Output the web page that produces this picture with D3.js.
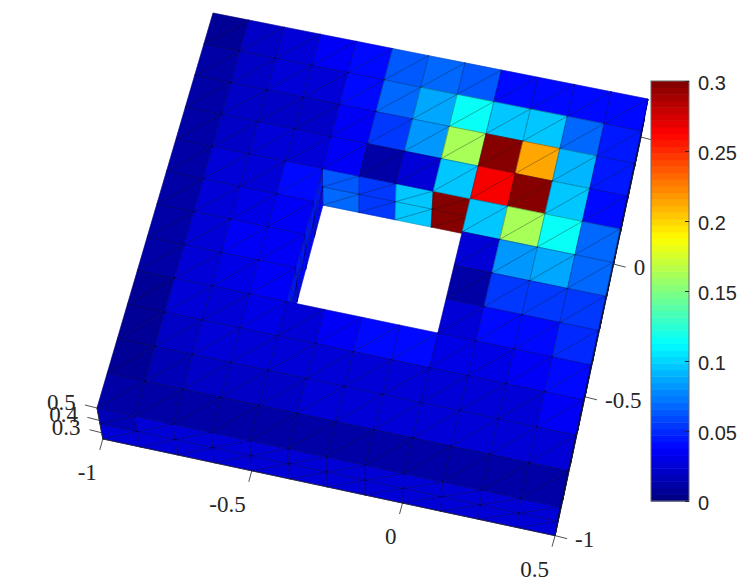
<!DOCTYPE html>
<html>
<head>
<meta charset="utf-8">
<script src="https://cdn.jsdelivr.net/npm/d3@7"></script>
<style>
    body { margin: 0; background: #fff; }
    svg { display: block; }
</style>
</head>
<body>
<svg id="surface" width="747" height="584"></svg>
<script>
// mesh lines
const xNodes = [-1, -0.875, -0.75, -0.625, -0.5, -0.375, -0.25, -0.125, 0, 0.125, 0.25, 0.375, 0.5];
const yNodes = [-1, -0.875, -0.75, -0.625, -0.5, -0.375, -0.25, -0.125, 0, 0.125, 0.25, 0.375, 0.5];
const zNodes = [0.5, 0.375, 0.25];

// tick labels
const xTicks = [-1, -0.5, 0, 0.5];
const yTicks = [-1, -0.5, 0, 0.5];
const zTicks = [0.5, 0.4, 0.3];
const colorTicks = [0, 0.05, 0.1, 0.15, 0.2, 0.25, 0.3];

// top face values, first row is the back one (y = 0.375), null is the hole
const topValues = [
    [.009, .020, .024, .035, .042, .061, .066, .061, .042, .040, .038, .0375],
    [.010, .021, .024, .028, .0375, .066, .085, .1125, .098, .097, .066, .045],
    [.010, .021, .021, .021, .033, .052, .080, .161, .300, .2125, .092, .045],
    [.010, .021, .024, .028, .033, .012, .028, .094, .2625, .300, .094, .040],
    [.010, .024, .028, .0375, null, null, null, null, .094, .161, .1125, .066],
    [.010, .026, .030, .033, null, null, null, null, .026, .080, .085, .066],
    [.011, .028, .033, .033, null, null, null, null, .012, .052, .056, .056],
    [.010, .024, .030, .033, null, null, null, null, .028, .042, .042, .050],
    [.009, .024, .028, .030, .028, .033, .0375, .0375, .030, .030, .035, .0375],
    [.008, .023, .026, .026, .024, .025, .028, .028, .025, .024, .028, .033],
    [.008, .018, .020, .022, .022, .026, .028, .026, .024, .024, .024, .028],
    [.011, .010, .011, .011, .011, .011, .010, .010, .010, .010, .010, .010]
];

// back wall of the hole, u = 4..7, two layers
const holeWallUpper = [.061, .052, .096, .300];
const holeWallLower = [.066, .052, .094, .300];
// left wall of the hole, v = 4..7, two layers
const holeLeftUpper = [.045, .045, .045, .045];
const holeLeftLower = [.040, .040, .040, .040];

// front face, two layers
const frontUpper = [.018, .026, .025, .026, .026, .026, .026, .026, .026, .024, .026, .024];
const frontLower = [.024, .026, .026, .026, .026, .026, .026, .026, .026, .026, .026, .026];
const rightWall = [.010, .010, .010, .010, .010, .010, .010, .010, .010, .010, .010, .010];

const svg = d3.select("svg#surface");

const u = d3.scaleLinear().domain([-1, 0.5]).range([0, 1]);
const v = d3.scaleLinear().domain([-1, 0.5]).range([0, 1]);
const zDrop = d3.scaleLinear().domain([0.5, 0.25]).range([0, 0.0232]);

// perspective of the top plane (z = 0.5), from its four corners on screen
const corner00 = [97, 408], corner10 = [560, 507], corner11 = [648, 99], corner01 = [213, 13];
const nadir = [347, 1742];

const homography = (() => {
    const [x0, y0] = corner00, [x1, y1] = corner10, [x2, y2] = corner11, [x3, y3] = corner01;
    const dx1 = x1 - x2, dx2 = x3 - x2, sx = x0 - x1 + x2 - x3;
    const dy1 = y1 - y2, dy2 = y3 - y2, sy = y0 - y1 + y2 - y3;
    const det = dx1 * dy2 - dx2 * dy1;
    const g = (sx * dy2 - dx2 * sy) / det;
    const h = (dx1 * sy - sx * dy1) / det;
    return (s, t) => {
        const w = g * s + h * t + 1;
        return [
            (x1 - x0 + g * x1) * s + (x3 - x0 + h * x3) * t + x0,
            (y1 - y0 + g * y1) * s + (y3 - y0 + h * y3) * t + y0
        ].map(d => d / w);
    };
})();

function project(x, y, z) {
    const p = homography(u(x), v(y));
    const f = zDrop(z);
    return [p[0] + f * (nadir[0] - p[0]), p[1] + f * (nadir[1] - p[1])];
}

// jet, 64 steps
function jet(t) {
    const ch = c => Math.round(255 * Math.max(0, Math.min(1, 1.5 - Math.abs(4 * t - c))));
    return d3.rgb(ch(3), ch(2), ch(1)).formatHex();
}
const jetColors = d3.range(64).map(i => jet((i + 0.5) / 64));
const color = d3.scaleQuantize().domain([0, 0.3]).range(jetColors);

const sideFaces = [];
const topFaces = [];
// each quad is split in two triangles along a -> c
function addQuad(list, a, b, c, d, value) {
    list.push({points: [a, b, c], value: value});
    list.push({points: [a, c, d], value: value});
}

// right wall first, it only shows as a sliver
rightWall.forEach((val, j) => {
    zNodes.slice(0, 2).forEach((z, k) => {
        addQuad(sideFaces, project(0.5, yNodes[j], zNodes[k + 1]), project(0.5, yNodes[j + 1], zNodes[k + 1]),
            project(0.5, yNodes[j + 1], z), project(0.5, yNodes[j], z), val);
    });
});

// walls of the hole
[holeWallLower, holeWallUpper].forEach((row, k) => {
    row.forEach((val, i) => {
        const x0 = xNodes[i + 4], x1 = xNodes[i + 5];
        addQuad(sideFaces, project(x0, 0, zNodes[2 - k]), project(x1, 0, zNodes[2 - k]),
            project(x1, 0, zNodes[1 - k]), project(x0, 0, zNodes[1 - k]), val);
    });
});
[holeLeftLower, holeLeftUpper].forEach((row, k) => {
    row.forEach((val, j) => {
        const y0 = yNodes[j + 4], y1 = yNodes[j + 5];
        addQuad(sideFaces, project(-0.5, y0, zNodes[2 - k]), project(-0.5, y1, zNodes[2 - k]),
            project(-0.5, y1, zNodes[1 - k]), project(-0.5, y0, zNodes[1 - k]), val);
    });
});

// front face
[frontLower, frontUpper].forEach((row, k) => {
    row.forEach((val, i) => {
        addQuad(sideFaces, project(xNodes[i], -1, zNodes[2 - k]), project(xNodes[i + 1], -1, zNodes[2 - k]),
            project(xNodes[i + 1], -1, zNodes[1 - k]), project(xNodes[i], -1, zNodes[1 - k]), val);
    });
});

// top face
topValues.forEach((row, r) => {
    const j = 11 - r;
    row.forEach((val, i) => {
        if (val === null) return;
        addQuad(topFaces, project(xNodes[i], yNodes[j], 0.5), project(xNodes[i + 1], yNodes[j], 0.5),
            project(xNodes[i + 1], yNodes[j + 1], 0.5), project(xNodes[i], yNodes[j + 1], 0.5), val);
    });
});

const line = d3.line();

// sides first, then the top covers what it hides
[sideFaces, topFaces].forEach(list => {
    const layer = svg.append("g");

    layer.selectAll("path.fill")
        .data(list)
        .enter().append("path")
        .attr("class", "fill")
        .attr("d", d => line(d.points) + "Z")
        .attr("fill", d => color(d.value))
        .attr("stroke", d => color(d.value))
        .attr("stroke-width", 0.6);

    layer.selectAll("path.edge")
        .data(list)
        .enter().append("path")
        .attr("class", "edge")
        .attr("d", d => line(d.points) + "Z")
        .attr("fill", "none")
        .attr("stroke", "#000")
        .attr("stroke-opacity", 0.28)
        .attr("stroke-width", 0.6);
});

// axes of the box
const axisColor = "#262626";
const axes = svg.append("g")
    .attr("stroke", axisColor)
    .attr("stroke-width", 0.8);

axes.append("path")
    .attr("fill", "none")
    .attr("d", line([project(-1, -1, 0.5), project(-1, -1, 0.25), project(0.5, -1, 0.25), project(0.5, 0.5, 0.25)]));

const addTick = (p, dx, dy) => axes.append("line")
    .attr("x1", p[0]).attr("y1", p[1])
    .attr("x2", p[0] + dx).attr("y2", p[1] + dy);

const labels = svg.append("g")
    .attr("fill", axisColor)
    .style("font-family", "'Liberation Serif', serif")
    .style("font-size", "23px");

const addLabel = (p, dx, dy, text, anchor) => labels.append("text")
    .attr("x", p[0] + dx)
    .attr("y", p[1] + dy)
    .attr("text-anchor", anchor)
    .text(text);

xTicks.forEach(x => {
    const p = project(x, -1, 0.25);
    addTick(p, -3, 11);
    addLabel(p, -6, 41, x, "end");
});
yTicks.forEach(y => {
    const p = project(0.5, y, 0.25);
    addTick(p, 12, 3);
    addLabel(p, 20, 11, y, "start");
});
zTicks.forEach(z => {
    const p = project(-1, -1, z);
    addTick(p, -12, -3);
    addLabel(p, -50, 2, z, "start");
});

// colorbar, drawn last so it covers the 0.5 label
const barX = 651, barW = 38;
const cScale = d3.scaleLinear().domain([0, 0.3]).range([501, 81]);
const steps = d3.range(64);
const stepH = 420 / 64;

const bar = svg.append("g");
bar.selectAll("rect")
    .data(steps)
    .enter().append("rect")
    .attr("x", barX)
    .attr("width", barW)
    .attr("y", d => cScale(0.3 * (d + 1) / 64))
    .attr("height", stepH + 0.5)
    .attr("fill", d => jetColors[d]);

bar.append("rect")
    .attr("x", barX)
    .attr("y", cScale(0.3))
    .attr("width", barW)
    .attr("height", 420)
    .attr("fill", "none")
    .attr("stroke", "#6b6b6b")
    .attr("stroke-width", 1);

const cAxis = svg.append("g")
    .attr("transform", `translate(${barX + barW},0)`)
    .call(d3.axisRight(cScale)
        .tickValues(colorTicks)
        .tickFormat(d => d)
        .tickSizeInner(-4)
        .tickSizeOuter(0)
        .tickPadding(9));

cAxis.select(".domain").remove();
cAxis.selectAll("line").attr("stroke", axisColor);
cAxis.selectAll("text")
    .attr("fill", axisColor)
    .attr("dy", "0.42em")
    .style("font-family", "'Liberation Sans', sans-serif")
    .style("font-size", "20px");
</script>
</body>
</html>
